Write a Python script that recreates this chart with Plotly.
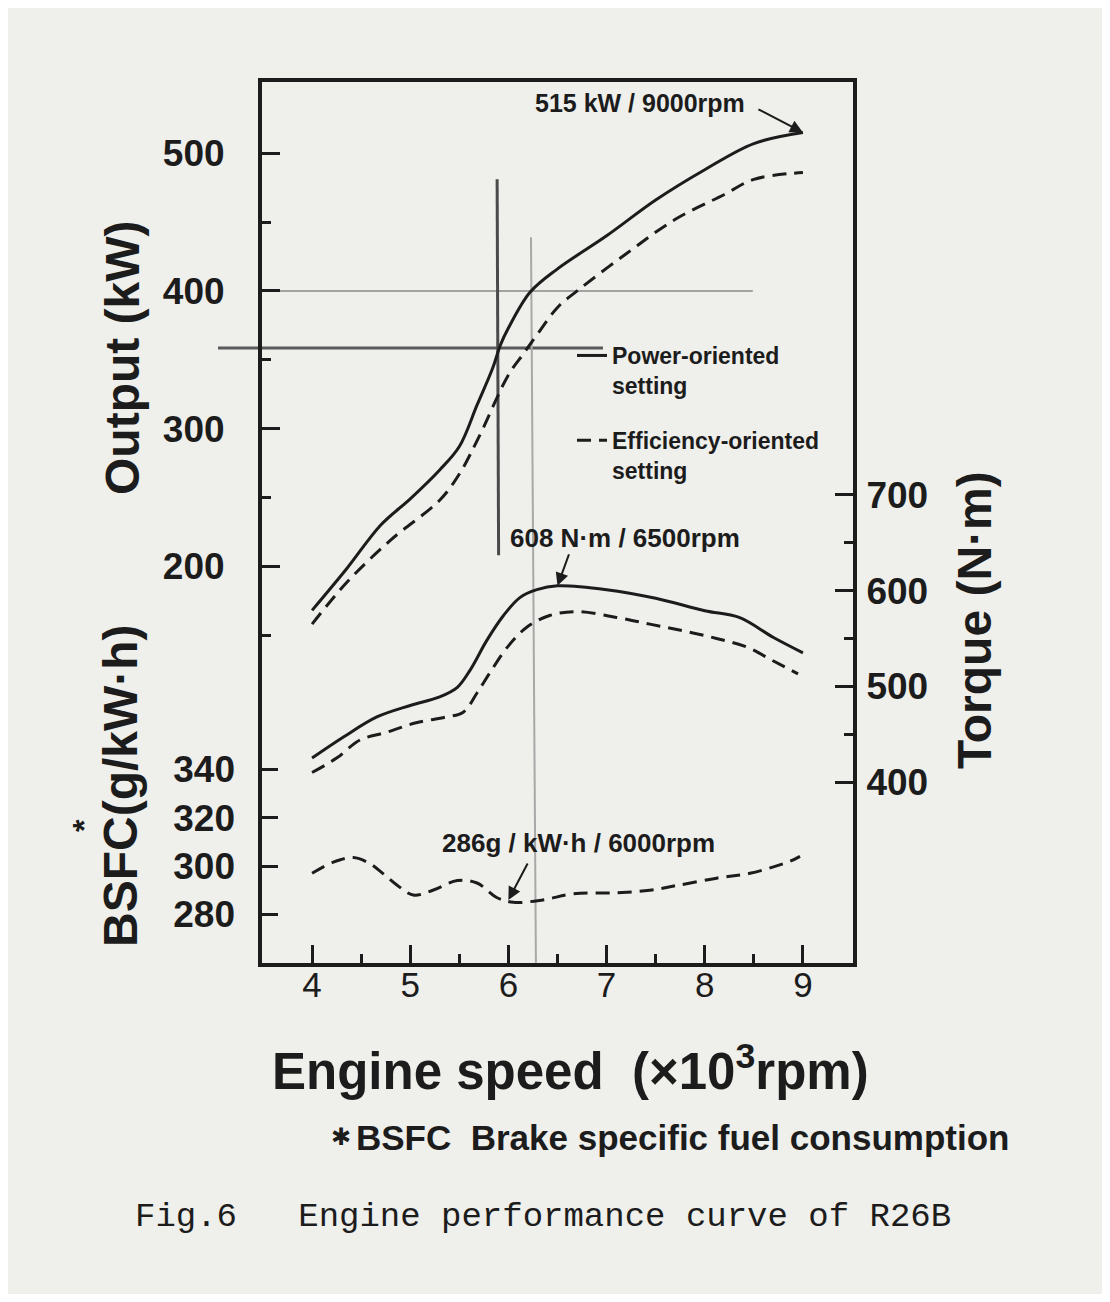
import plotly.graph_objects as go

# ---------------- data ----------------
x_tick_vals = [4, 5, 6, 7, 8, 9]
x_tick_labels = ["4", "5", "6", "7", "8", "9"]
x_minor_vals = [4.5, 5.5, 6.5, 7.5, 8.5]

output_tick_vals = [200, 300, 400, 500]
output_minor_vals = [150, 250, 350, 450]
bsfc_tick_vals = [280, 300, 320, 340]
torque_tick_vals = [400, 500, 600, 700]
torque_minor_vals = [450, 550, 650]

# Output (kW)
rpm_output_power = [4.0, 4.35, 4.7, 5.0, 5.3, 5.5, 5.68, 5.84, 5.92, 6.0, 6.22, 6.5, 7.0, 7.5, 8.0, 8.5, 9.0]
output_power = [168, 198, 230, 249, 270, 287, 317, 344, 361, 373, 399, 416, 440, 466, 488, 507, 515]

rpm_output_eff = [4.0, 4.35, 4.8, 5.3, 5.5, 5.7, 6.0, 6.15, 6.3, 6.5, 6.7, 7.2, 7.7, 8.2, 8.5, 9.0]
output_eff = [158, 188, 219, 248, 267, 294, 339, 354, 369, 388, 400, 427, 452, 470, 481, 486]

# Torque (N·m)
rpm_torque_power = [4.0, 4.32, 4.66, 5.0, 5.3, 5.48, 5.61, 5.78, 5.95, 6.12, 6.29, 6.5, 7.0, 7.5, 8.0, 8.35, 8.7, 9.0]
torque_power = [425, 447, 468, 480, 489, 499, 517, 548, 574, 593, 601, 605, 601, 592, 579, 572, 551, 535]

rpm_torque_eff = [4.0, 4.25, 4.49, 4.76, 5.06, 5.37, 5.54, 5.68, 5.81, 5.99, 6.19, 6.42, 6.7, 7.1, 7.44, 7.78, 8.12, 8.43, 8.69, 8.95]
torque_eff = [410, 425, 444, 452, 462, 468, 473, 493, 514, 541, 562, 574, 578, 572, 565, 558, 550, 541, 527, 513]

# BSFC (g/kW·h), efficiency-oriented setting
rpm_bsfc = [4.0, 4.21, 4.42, 4.59, 4.72, 4.87, 5.03, 5.23, 5.48, 5.68, 5.88, 6.05, 6.35, 6.66, 7.11, 7.44, 7.72, 8.12, 8.46, 8.87, 8.97]
bsfc_eff = [297, 301.5, 303.5, 301, 297, 292, 288, 290, 294, 293, 287, 285, 286, 288.5, 289, 290, 292, 295, 297, 302, 304]

# annotated points
peak_power_rpm, peak_power_kw = 9.0, 515
peak_torque_rpm, peak_torque_nm = 6.5, 605
min_bsfc_rpm, min_bsfc_val = 6.0, 286

# ---------------- styling ----------------
INK = "#1c1c1c"
PAPER = "#efefeb"
SANS = "Liberation Sans, Arial, sans-serif"
MONO = "Liberation Mono, DejaVu Sans Mono, monospace"
DASH = "14px,8px"

OFF = 8  # page body margin of the browser
L, T, W, H = 262, 82, 591, 881
FIG_W, FIG_H = 1110 - 2 * OFF, 1302 - 2 * OFF


def pxx(p):
    return (p - L) / W


def pxy(p):
    return (T + H - p) / H


fig = go.Figure()

fig.add_trace(go.Scatter(x=rpm_output_power, y=output_power, mode="lines",
                         line=dict(color=INK, width=3, shape="spline"),
                         name="Power-oriented<br>setting", legendgroup="a", yaxis="y"))
fig.add_trace(go.Scatter(x=rpm_output_eff, y=output_eff, mode="lines",
                         line=dict(color=INK, width=3, dash=DASH, shape="spline"),
                         name="Efficiency-oriented<br>setting", legendgroup="b", yaxis="y"))
fig.add_trace(go.Scatter(x=rpm_torque_power, y=torque_power, mode="lines",
                         line=dict(color=INK, width=3, shape="spline"),
                         showlegend=False, yaxis="y3"))
fig.add_trace(go.Scatter(x=rpm_torque_eff, y=torque_eff, mode="lines",
                         line=dict(color=INK, width=3, dash=DASH, shape="spline"),
                         showlegend=False, yaxis="y3"))
fig.add_trace(go.Scatter(x=rpm_bsfc, y=bsfc_eff, mode="lines",
                         line=dict(color=INK, width=3, dash=DASH, shape="spline"),
                         showlegend=False, yaxis="y2"))

tick_font_bold = dict(family=SANS, size=37, color=INK, weight="bold")

fig.update_layout(
    width=FIG_W, height=FIG_H,
    margin=dict(l=L - OFF, r=FIG_W - (L - OFF) - W, t=T - OFF, b=FIG_H - (T - OFF) - H),
    paper_bgcolor=PAPER, plot_bgcolor=PAPER,
    showlegend=True,
    legend=dict(x=pxx(572), y=pxy(334), xanchor="left", yanchor="top",
                bgcolor="rgba(0,0,0,0)", tracegroupgap=22, valign="top",
                font=dict(family=SANS, size=23, color=INK, weight="bold")),
    xaxis=dict(range=[3.49, 9.51], tickvals=x_tick_vals, ticktext=x_tick_labels,
               ticks="inside", ticklen=18, tickwidth=3, tickcolor=INK,
               minor=dict(tickvals=x_minor_vals, ticks="inside", ticklen=9, tickwidth=3, tickcolor=INK),
               showline=True, linewidth=4, linecolor=INK, mirror=True,
               showgrid=False, zeroline=False, ticklabelstandoff=-12,
               tickfont=dict(family=SANS, size=35, color=INK)),
    yaxis=dict(range=[-88.1, 551.7], tickvals=output_tick_vals,
               ticks="inside", ticklen=18, tickwidth=3, tickcolor=INK,
               minor=dict(tickvals=output_minor_vals, ticks="inside", ticklen=9, tickwidth=3, tickcolor=INK),
               showline=True, linewidth=4, linecolor=INK, mirror=True,
               showgrid=False, zeroline=False, ticklabelstandoff=26,
               tickfont=tick_font_bold),
    yaxis2=dict(range=[259.9, 624.4], tickvals=bsfc_tick_vals, overlaying="y", side="left",
                anchor="x", ticks="inside", ticklen=16, tickwidth=3, tickcolor=INK,
                showline=False, showgrid=False, zeroline=False, ticklabelstandoff=26,
                tickfont=tick_font_bold),
    yaxis3=dict(range=[210.9, 1131.5], tickvals=torque_tick_vals, overlaying="y", side="right",
                anchor="x", ticks="inside", ticklen=18, tickwidth=3, tickcolor=INK,
                minor=dict(tickvals=torque_minor_vals, ticks="inside", ticklen=9, tickwidth=3, tickcolor=INK),
                showline=True, linewidth=4, linecolor=INK,
                showgrid=False, zeroline=False, ticklabelstandoff=2,
                tickfont=dict(family=SANS, size=37, color=INK, weight="bold")),
)

# faint reference rules visible on the scanned figure
fig.add_shape(type="line", xref="x", yref="y", x0=3.64, x1=8.49, y0=400, y1=400,
              line=dict(color="#a3a3a3", width=2), layer="below")
fig.add_shape(type="line", xref="paper", yref="y", x0=pxx(218), x1=pxx(603), y0=358.5, y1=358.5,
              line=dict(color="#5a5a5a", width=3), layer="below")
fig.add_shape(type="line", xref="x", yref="y", x0=5.885, x1=5.9, y0=481, y1=208,
              line=dict(color="#4a4a4a", width=3), layer="below")
fig.add_shape(type="line", xref="x", yref="y", x0=6.23, x1=6.28, y0=439, y1=-88,
              line=dict(color="#a8a8a8", width=2), layer="below")


def text_ann(text, cx, cy, size, family=SANS, bold=True, angle=0, xanchor="center"):
    f = dict(family=family, size=size, color=INK)
    if bold:
        f["weight"] = "bold"
    return dict(text=text, x=pxx(cx), y=pxy(cy), xref="paper", yref="paper",
                xanchor=xanchor, yanchor="middle", textangle=angle, showarrow=False, font=f)


ann = []
# axis titles
ann.append(text_ann("Output (kW)", 122, 358, 48, angle=-90))
ann.append(text_ann("BSFC(g/kW·h)", 120, 786, 48, angle=-90))
ann.append(text_ann("*", 84, 826, 32, angle=-90))
ann.append(text_ann("Torque (N·m)", 974, 620, 48, angle=-90))
ann.append(text_ann("Engine speed\u00a0\u00a0(×10<sup>3</sup>rpm)", 570, 1068, 51))
ann.append(text_ann("✱", 341, 1137, 24, family="DejaVu Sans"))
ann.append(text_ann("BSFC\u00a0\u00a0Brake specific fuel consumption", 354, 1137, 35, xanchor="left"))
ann.append(text_ann("Fig.6\u00a0\u00a0\u00a0Engine performance curve of R26B", 133, 1217, 34,
                    family=MONO, bold=False, xanchor="left"))

# in-plot callouts
ann.append(text_ann("515 kW / 9000rpm", 533, 103, 25, xanchor="left"))
ann.append(dict(text="", x=peak_power_rpm, y=peak_power_kw, xref="x", yref="y",
                showarrow=True, ax=-46, ay=-24, arrowhead=2, arrowsize=1.3, arrowwidth=2,
                arrowcolor=INK))
ann.append(text_ann("608 N·m / 6500rpm", 508, 538, 26, xanchor="left"))
ann.append(dict(text="", x=peak_torque_rpm, y=peak_torque_nm, xref="x", yref="y3",
                showarrow=True, ax=12, ay=-33, arrowhead=2, arrowsize=1.3, arrowwidth=2,
                arrowcolor=INK))
ann.append(text_ann("286g / kW·h / 6000rpm", 440, 843, 26, xanchor="left"))
ann.append(dict(text="", x=min_bsfc_rpm, y=min_bsfc_val, xref="x", yref="y2",
                showarrow=True, ax=20, ay=-38, arrowhead=2, arrowsize=1.3, arrowwidth=2,
                arrowcolor=INK))

fig.update_layout(annotations=ann)

fig.write_html("out.html")
